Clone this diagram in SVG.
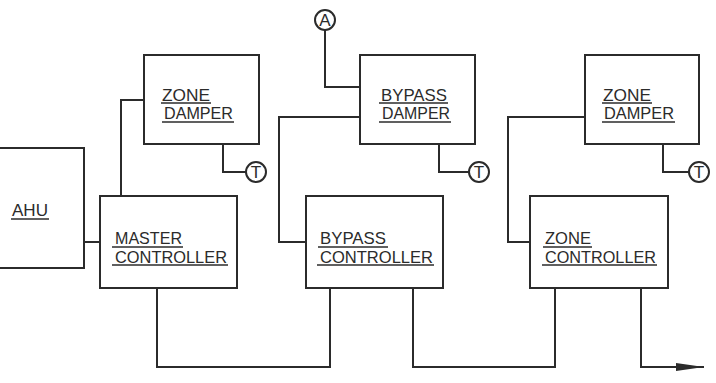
<svg xmlns="http://www.w3.org/2000/svg" width="716" height="383" viewBox="0 0 716 383">
<style>
.b{fill:#fff;stroke:#2b2b2b;stroke-width:2}
.c{fill:none;stroke:#2b2b2b;stroke-width:2}
.u{stroke:#2b2b2b;stroke-width:1.6}
text{font-family:"Liberation Sans",Arial,sans-serif;font-size:17px;fill:#2b2b2b}
</style>
<defs>
<marker id="ar" markerWidth="30" markerHeight="10" refX="28" refY="5" orient="auto" markerUnits="userSpaceOnUse">
<path d="M0,1 L28,5 L0,9 Z" fill="#2b2b2b"/>
</marker>
</defs>
<rect width="716" height="383" fill="#fff"/>
<g id="connectors">
<polyline class="c" points="144,100 121,100 121,196"/>
<polyline class="c" points="223,144 223,172 246,172"/>
<polyline class="c" points="325,30 325,87 360,87"/>
<polyline class="c" points="360,117 279,117 279,242 306,242"/>
<polyline class="c" points="439,144 439,172 469,172"/>
<polyline class="c" points="585,117 508,117 508,242 530,242"/>
<polyline class="c" points="663,144 663,172 689,172"/>
<line class="c" x1="84" y1="242" x2="100" y2="242"/>
<polyline class="c" points="157,288 157,367 330,367 330,288"/>
<polyline class="c" points="413,288 413,367 555,367 555,288"/>
<polyline class="c" points="641,288 641,367 704,367" marker-end="url(#ar)"/>
</g>
<g id="ahu">
<rect class="b" x="-5" y="148" width="89" height="120"/>
<text x="12" y="216" textLength="36" lengthAdjust="spacingAndGlyphs">AHU</text>
<line class="u" x1="11" y1="219" x2="49" y2="219"/>
</g>
<g id="zone-damper-1">
<rect class="b" x="144" y="55" width="115" height="89"/>
<text x="162" y="101" textLength="48" lengthAdjust="spacingAndGlyphs">ZONE</text>
<line class="u" x1="161" y1="103" x2="211" y2="103"/>
<text x="164" y="119" textLength="69" lengthAdjust="spacingAndGlyphs">DAMPER</text>
<line class="u" x1="162" y1="122" x2="234" y2="122"/>
</g>
<g id="t1">
<circle class="b" cx="256" cy="172" r="10"/>
<text x="256" y="178" text-anchor="middle" font-size="15">T</text>
</g>
<g id="a">
<circle class="b" cx="325" cy="20" r="10"/>
<text x="325" y="26" text-anchor="middle" font-size="15">A</text>
</g>
<g id="bypass-damper">
<rect class="b" x="360" y="55" width="115" height="89"/>
<text x="381" y="101" textLength="66" lengthAdjust="spacingAndGlyphs">BYPASS</text>
<line class="u" x1="379" y1="103" x2="448" y2="103"/>
<text x="382" y="119" textLength="68" lengthAdjust="spacingAndGlyphs">DAMPER</text>
<line class="u" x1="379" y1="122" x2="451" y2="122"/>
</g>
<g id="t2">
<circle class="b" cx="479" cy="172" r="10"/>
<text x="479" y="178" text-anchor="middle" font-size="15">T</text>
</g>
<g id="zone-damper-2">
<rect class="b" x="585" y="55" width="114" height="89"/>
<text x="603" y="101" textLength="48" lengthAdjust="spacingAndGlyphs">ZONE</text>
<line class="u" x1="602" y1="103" x2="652" y2="103"/>
<text x="604" y="119" textLength="70" lengthAdjust="spacingAndGlyphs">DAMPER</text>
<line class="u" x1="602" y1="122" x2="675" y2="122"/>
</g>
<g id="t3">
<circle class="b" cx="699" cy="172" r="10"/>
<text x="699" y="178" text-anchor="middle" font-size="15">T</text>
</g>
<g id="master-controller">
<rect class="b" x="100" y="196" width="137" height="92"/>
<text x="115" y="244" textLength="67" lengthAdjust="spacingAndGlyphs">MASTER</text>
<line class="u" x1="112" y1="247" x2="183" y2="247"/>
<text x="115" y="263" textLength="112" lengthAdjust="spacingAndGlyphs">CONTROLLER</text>
<line class="u" x1="112" y1="265" x2="228" y2="265"/>
</g>
<g id="bypass-controller">
<rect class="b" x="306" y="196" width="137" height="92"/>
<text x="320" y="244" textLength="66" lengthAdjust="spacingAndGlyphs">BYPASS</text>
<line class="u" x1="318" y1="247" x2="388" y2="247"/>
<text x="320" y="263" textLength="113" lengthAdjust="spacingAndGlyphs">CONTROLLER</text>
<line class="u" x1="317" y1="265" x2="434" y2="265"/>
</g>
<g id="zone-controller">
<rect class="b" x="530" y="196" width="138" height="92"/>
<text x="545" y="244" textLength="46" lengthAdjust="spacingAndGlyphs">ZONE</text>
<line class="u" x1="543" y1="247" x2="592" y2="247"/>
<text x="545" y="263" textLength="111" lengthAdjust="spacingAndGlyphs">CONTROLLER</text>
<line class="u" x1="542" y1="265" x2="657" y2="265"/>
</g>
</svg>
